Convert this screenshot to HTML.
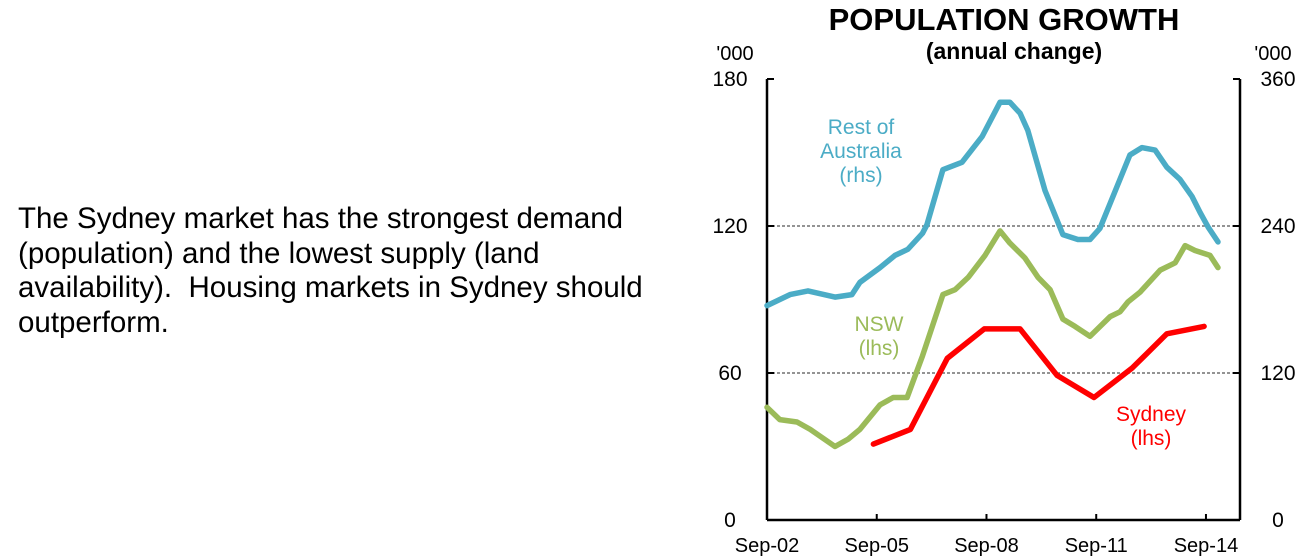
<!DOCTYPE html>
<html><head><meta charset="utf-8"><style>
body{margin:0;width:1299px;height:560px;background:#fff;font-family:"Liberation Sans",Arial,sans-serif;overflow:hidden;position:relative}
#desc{position:absolute;left:18px;top:202px;font-size:29.5px;line-height:34.5px;color:#000;width:750px;white-space:nowrap}
svg{position:absolute;left:0;top:0}
</style></head><body>
<div id="desc">The Sydney market has the strongest demand<br>(population) and the lowest supply (land<br>availability).&nbsp; Housing markets in Sydney should<br>outperform.</div>
<svg id="chart" width="1299" height="560"></svg>
<script>
const leftTicks=[0,60,120,180];
const rightTicks=[0,120,240,360];
const xTickYears=[2002.75,2005.75,2008.75,2011.75,2014.75];
const xTickLabels=["Sep-02","Sep-05","Sep-08","Sep-11","Sep-14"];
const restYears=[2002.75,2003.38,2003.87,2004.61,2005.07,2005.29,2005.84,2006.25,2006.6,2007.0,2007.12,2007.56,2008.08,2008.63,2009.12,2009.39,2009.67,2009.88,2010.35,2010.84,2011.25,2011.58,2011.85,2012.67,2013.0,2013.36,2013.68,2014.04,2014.37,2014.59,2014.81,2015.08];
const restVals=[175,184,187,182,184,194,206,216,221,234,241,286,292,313,341,341,332,318,269,233,229,229,238,298,304,302,288,278,264,251,239,227];
const nswYears=[2002.75,2003.1,2003.57,2003.93,2004.61,2004.97,2005.29,2005.84,2006.2,2006.58,2007.0,2007.56,2007.89,2008.25,2008.71,2009.12,2009.39,2009.8,2010.16,2010.49,2010.84,2011.17,2011.58,2012.13,2012.4,2012.62,2012.95,2013.5,2013.91,2014.18,2014.45,2014.86,2015.08];
const nswVals=[46,41,40,37,30,33,37,47,50,50,67,92,94,99,108,118,113,107,99,94,82,79,75,83,85,89,93,102,105,112,110,108,103];
const sydYears=[2005.66,2006.67,2007.68,2008.69,2009.67,2010.68,2011.69,2012.73,2013.68,2014.7];
const sydVals=[31,37,66,78,78,59,50,62,76,79];
const L=767,R=1240,T=79,B=520;
const xs=y=>767+(y-2002.75)*36.58;
const yl=v=>B-(v/180)*(B-T);
const yr=v=>B-(v/360)*(B-T);
const svg=document.getElementById('chart');
const NS='http://www.w3.org/2000/svg';
function mk(t,a,txt){const e=document.createElementNS(NS,t);for(const k in a)e.setAttribute(k,a[k]);if(txt!==undefined)e.textContent=txt;svg.appendChild(e);return e;}
let e;
e=mk('text',{x:1004,y:30,'text-anchor':'middle','font-size':31,'font-weight':'bold'},'POPULATION GROWTH');


e=mk('text',{x:1014,y:59,'text-anchor':'middle','font-size':23,'font-weight':'bold'},'(annual change)');


e=mk('text',{x:735,y:60,'text-anchor':'middle','font-size':20},"'000");


e=mk('text',{x:1273,y:60,'text-anchor':'middle','font-size':20},"'000");


leftTicks.forEach((v,i)=>{const y=yl(v);
 if(v>0&&v<180){e=mk('line',{x1:L,x2:R,y1:y,y2:y,stroke:'#555','stroke-width':1.3,'stroke-dasharray':'3,2'});
 
 }
 e=mk('line',{x1:L,x2:L+7,y1:y,y2:y,stroke:'#000','stroke-width':2});
 
 
 e=mk('text',{x:730,y:y+7,'text-anchor':'middle','font-size':21},v);
 
 });
rightTicks.forEach(v=>{const y=yr(v);
 e=mk('line',{x1:R-7,x2:R,y1:y,y2:y,stroke:'#000','stroke-width':2});
 
 
 e=mk('text',{x:1278,y:y+7,'text-anchor':'middle','font-size':21},v);
 
 });
xTickYears.forEach((yy,i)=>{const x=xs(yy);
 e=mk('line',{x1:x,x2:x,y1:B,y2:B-6,stroke:'#000','stroke-width':2});
 
 
 e=mk('text',{x:x,y:552,'text-anchor':'middle','font-size':20},xTickLabels[i]);
 
 });
e=mk('line',{x1:L,x2:L,y1:T,y2:B,stroke:'#000','stroke-width':2.5});


e=mk('line',{x1:R,x2:R,y1:T,y2:B,stroke:'#000','stroke-width':2.5});


e=mk('line',{x1:L,x2:R,y1:B,y2:B,stroke:'#000','stroke-width':2.5});


function line(years,vals,fy,color){return mk('polyline',{points:years.map((y,i)=>xs(y).toFixed(1)+','+fy(vals[i]).toFixed(1)).join(' '),fill:'none',stroke:color,'stroke-width':5.5,'stroke-linejoin':'round','stroke-linecap':'round'});}
e=line(restYears,restVals,yr,'#4BACC6');


e=line(nswYears,nswVals,yl,'#9BBB59');


e=line(sydYears,sydVals,yl,'#FF0000');


function lab(lines,x,y,c,name){lines.forEach((t,i)=>{e=mk('text',{x:x,y:y+i*24,'text-anchor':'middle','font-size':21,fill:c},t);
 
 });}
lab(['Rest of','Australia','(rhs)'],861,134,'#4BACC6','rest-of-australia-label');
lab(['NSW','(lhs)'],879,331,'#9BBB59','nsw-label');
lab(['Sydney','(lhs)'],1151,421,'#FF0000','sydney-label');
</script>
</body></html>
